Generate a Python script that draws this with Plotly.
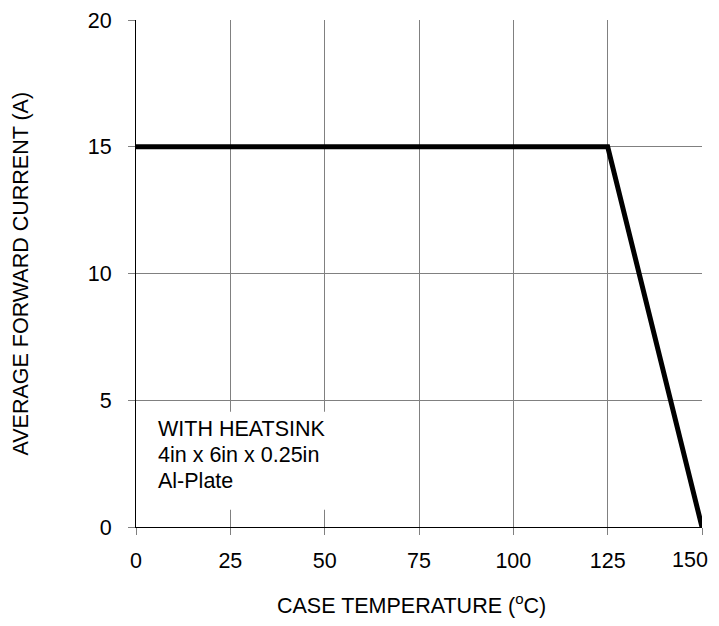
import plotly.graph_objects as go

temperature = [0, 125, 150]
current = [15, 15, 0]
x_ticks = [0, 25, 50, 75, 100, 125, 150]
x_tick_labels = ["0", "25", "50", "75", "100", "125", "150"]
y_ticks = [0, 5, 10, 15, 20]
note_lines = ["WITH HEATSINK", "4in x 6in x 0.25in", "Al-Plate"]
note_y = [3.88, 2.85, 1.82]

font_family = "Liberation Sans, Arial, sans-serif"
fs = 21.5

fig = go.Figure()
fig.add_trace(go.Scatter(
    x=temperature, y=current, mode="lines",
    line=dict(color="black", width=5),
    cliponaxis=False, showlegend=False, hoverinfo="skip",
))

fig.add_shape(type="rect", xref="x", yref="y", x0=0.4, x1=65, y0=0.68, y1=4.55,
              fillcolor="white", line=dict(width=0), layer="between")

for txt, yv in zip(note_lines, note_y):
    fig.add_annotation(
        x=5.3, y=yv, xref="x", yref="y", xanchor="left", yanchor="middle",
        text=txt, showarrow=False, align="left",
        font=dict(family=font_family, size=fs, color="black"),
    )

# last x tick label drawn as an annotation, kept inside the page edge
shown_labels = x_tick_labels[:-1] + [""]
fig.add_annotation(
    x=x_ticks[-1], y=0, xref="x", yref="paper", xanchor="right", yanchor="middle",
    xshift=8, yshift=-33, showarrow=False, text=x_tick_labels[-1],
    font=dict(family=font_family, size=fs, color="black"),
)

# axis titles
fig.add_annotation(
    x=0.5, y=0, xref="paper", yref="paper", xanchor="center", yanchor="middle",
    xshift=-8, yshift=-77, showarrow=False,
    text="CASE TEMPERATURE (<sup>o</sup>C)",
    font=dict(family=font_family, size=fs, color="black"),
)
fig.add_annotation(
    x=0, y=0.5, xref="paper", yref="paper", xanchor="center", yanchor="middle",
    xshift=-116, yshift=0, showarrow=False, textangle=-90,
    text="AVERAGE FORWARD CURRENT (A)",
    font=dict(family=font_family, size=fs, color="black"),
)

fig.update_layout(
    width=703, height=610,
    margin=dict(l=128, r=9, t=12, b=91),
    paper_bgcolor="white", plot_bgcolor="white",
    font=dict(family=font_family, size=fs, color="black"),
    xaxis=dict(
        range=[0, 150], tickvals=x_ticks, ticktext=shown_labels,
        ticks="outside", ticklen=7, tickcolor="#808080",
        showgrid=True, gridcolor="#808080", gridwidth=1, automargin=False,
        showline=True, linecolor="black", linewidth=1, zeroline=False,
        ticklabelstandoff=7,
        tickfont=dict(family=font_family, size=fs),
    ),
    yaxis=dict(
        range=[0, 20], tickvals=y_ticks, ticks="outside", ticklen=7, tickcolor="#808080",
        showgrid=True, gridcolor="#808080", gridwidth=1, automargin=False,
        showline=True, linecolor="black", linewidth=1, zeroline=False,
        ticklabelstandoff=12,
        tickfont=dict(family=font_family, size=fs),
    ),
)

fig.write_html("out.html")
